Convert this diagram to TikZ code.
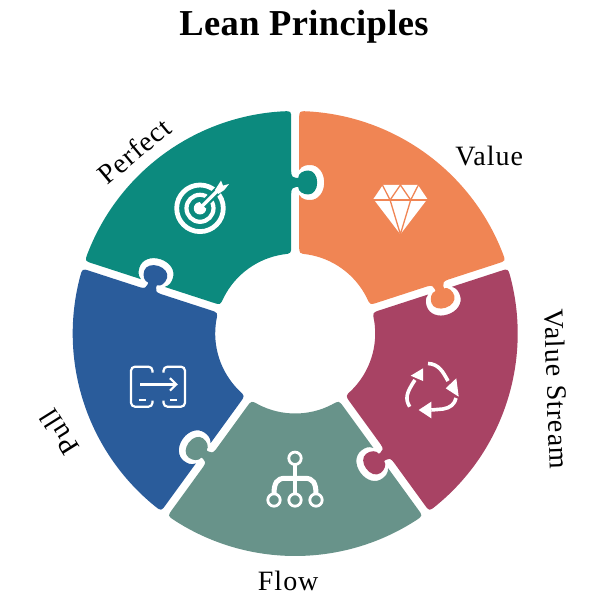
\documentclass[tikz,border=0pt]{standalone}
\usepackage{fontspec}
\setmainfont{Liberation Serif}
\newfontfamily\lblfont[LetterSpace=3.5]{Liberation Serif}
\newfontfamily\ttlfont[LetterSpace=1]{Liberation Serif}
\definecolor{cOrange}{HTML}{F08554}
\definecolor{cTeal}{HTML}{0C8A7E}
\definecolor{cBlue}{HTML}{2A5C9B}
\definecolor{cGreen}{HTML}{68938A}
\definecolor{cMaroon}{HTML}{A84364}
\newcommand{\piecepath}{%
 ([rotate=90]214.5,-4) .. controls ([rotate=90]222.5,-4) .. (86.9:222.5)
 arc[start angle=86.9,end angle=21.1,radius=222.5]
 .. controls ([rotate=18]222.5,4) .. ([rotate=18]214.5,4)
 -- ([rotate=18]162,4)
 .. controls ([rotate=18]157,4) and ([rotate=18]155.5,2) .. ([rotate=18]155.5,-1)
 -- ([rotate=18]155.5,-3)
 .. controls ([rotate=18]160,-3) and ([rotate=18]163,-8) .. ([rotate=18]163,-13)
 .. controls ([rotate=18]163,-18.5) and ([rotate=18]157.5,-22) .. ([rotate=18]151,-22)
 .. controls ([rotate=18]144.5,-22) and ([rotate=18]139,-18.5) .. ([rotate=18]139,-13)
 .. controls ([rotate=18]139,-8) and ([rotate=18]142,-3) .. ([rotate=18]146.5,-3)
 -- ([rotate=18]146.5,-1)
 .. controls ([rotate=18]146.5,2) and ([rotate=18]145,4) .. ([rotate=18]140,4)
 -- ([rotate=18]88,4) .. controls ([rotate=18]80,4) .. (26.6:80)
 arc[start angle=26.6,end angle=81.4,radius=80]
 .. controls ([rotate=90]80,-4) .. ([rotate=90]88,-4)
 -- ([rotate=90]138.5,-4)
 .. controls ([rotate=90]134,-7) and ([rotate=90]133.5,-11) .. ([rotate=90]133.5,-15)
 .. controls ([rotate=90]133.5,-23) and ([rotate=90]141,-29) .. ([rotate=90]151,-29)
 .. controls ([rotate=90]161,-29) and ([rotate=90]168.5,-23) .. ([rotate=90]168.5,-15)
 .. controls ([rotate=90]168.5,-11) and ([rotate=90]168,-7) .. ([rotate=90]163.5,-4)
 -- cycle}
\tikzset{
 lbl/.style={font=\lblfont\fontsize{28}{30}\selectfont,text=black,inner sep=0pt},
 ttl/.style={font=\ttlfont\bfseries\fontsize{36.5}{38}\selectfont,text=black,inner sep=0pt},
 iconline/.style={draw=white,line width=2.2pt,fill=none},
 iconfill/.style={fill=white,draw=none}
}
\begin{document}
\begin{tikzpicture}[x=1pt,y=1pt]
\useasboundingbox (-295.2,-274.5) rectangle (311.8,333.5);
% pieces
\fill[cOrange] \piecepath;
\begin{scope}[rotate=72] \fill[cTeal] \piecepath; \end{scope}
\begin{scope}[rotate=144] \fill[cBlue] \piecepath; \end{scope}
\begin{scope}[rotate=216] \fill[cGreen] \piecepath; \end{scope}
\begin{scope}[rotate=288] \fill[cMaroon] \piecepath; \end{scope}
% diamond
\begin{scope}[shift={(105.2,123.5)}]
 \fill[white] (-17.5,25) -- (17.5,25) -- (27,11) -- (0,-24.3) -- (-27,11) -- cycle;
 \draw[cOrange,line width=1.3pt] (-29,10) -- (29,10);
 \draw[cOrange,line width=1.3pt] (-19,27) -- (-10.3,10) -- (0,-24.3) -- (10.3,10) -- (19,27);
 \draw[cOrange,line width=1.3pt] (-10.3,10) -- (0,25) -- (10.3,10);
\end{scope}
% target
\begin{scope}[shift={(-95.2,125.2)}]
 \draw[white,line width=4.8pt] (0,0) circle[radius=23.3];
 \draw[white,line width=4.2pt] (0,0) circle[radius=13.5];
 \fill[white] (0,0) circle[radius=6.2];
 \draw[cTeal,line width=8pt] (3,3) -- (24,24);
 \draw[white,line width=3.4pt] (0,0) -- (18,18);
 \fill[white] (15,18.3) -- (21,27.7) -- (23,22.7) -- (29,24.3) -- (24.3,18.3) -- (18.3,14.3) -- cycle;
\end{scope}
% pull
\begin{scope}[shift={(-137.2,-53.2)}]
 \draw[iconline,rounded corners=4pt] (-5.5,14) -- (-5.5,20) -- (-27,20) -- (-27,-20) -- (-5.5,-20) -- (-5.5,-14);
 \draw[iconline,rounded corners=4pt] (5.5,14) -- (5.5,20) -- (27,20) -- (27,-20) -- (5.5,-20) -- (5.5,-14);
 \draw[iconline] (-17.5,2.3) -- (18.3,2.3);
 \draw[iconline] (12,8.5) -- (18.3,2.3) -- (12,-3.9);
 \draw[iconline] (-19,-13.3) -- (-12,-13.3);
 \draw[iconline] (12,-13.3) -- (19,-13.3);
\end{scope}
% flow
\begin{scope}[shift={(-0.2,-146.5)}]
 \draw[white,line width=2.8pt] (0,21.7) circle[radius=6.2];
 \draw[white,line width=2.8pt] (-21,-20) circle[radius=6.2];
 \draw[white,line width=2.8pt] (0,-20) circle[radius=6.2];
 \draw[white,line width=2.8pt] (21,-20) circle[radius=6.2];
 \draw[white,line width=3.4pt] (0,15.7) -- (0,-14);
 \draw[white,line width=5pt] (-21,-14) .. controls (-21,-3) and (-18,1.7) .. (-10,1.7) -- (10,1.7) .. controls (18,1.7) and (21,-3) .. (21,-14);
\end{scope}
% recycle
\begin{scope}[shift={(137.8,-56.5)}]
 \draw[white,line width=3.6pt] (-5,26.5) .. controls (6,26) and (10,18) .. (15,9);
 \fill[white] (12.7,1.7) -- (23.3,11.7) -- (25.7,-6.7) -- cycle;
 \draw[white,line width=3.6pt] (23,-8) .. controls (22,-14) and (17,-18) .. (10,-19) -- (-1.7,-20);
 \fill[white] (-14.3,-20) -- (-1.7,-11.7) -- (-1.7,-28.3) -- cycle;
 \draw[white,line width=3.6pt] (-23.3,-16.7) .. controls (-28,-9) and (-27,-3) .. (-18,10);
 \fill[white] (-10,21.7) -- (-22.3,14.3) -- (-10,9) -- cycle;
\end{scope}
% labels
\node[ttl] (title) at (8.8,307) {Lean Principles};
\node[lbl] (value) at (194,177.5) {Value};
\node[lbl,rotate=40] (perfect) at (-161,182.5) {Perfect};
\node[lbl,rotate=-88] (stream) at (261.5,-55.5) {Value Stream};
\node[lbl,rotate=122] (pull) at (-236,-98.5) {Pull};
\node[lbl] (flow) at (-7,-247.5) {Flow};
\end{tikzpicture}
\end{document}
